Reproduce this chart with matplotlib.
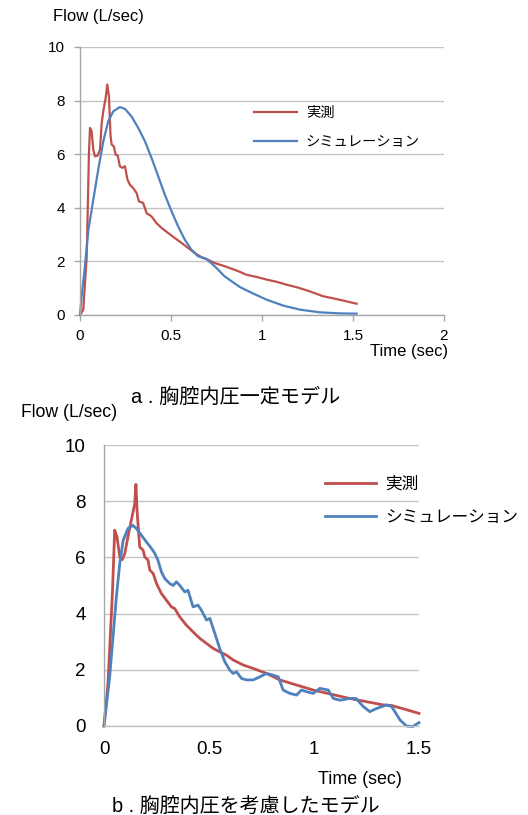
import numpy as np
import matplotlib
matplotlib.use("Agg")
import matplotlib.pyplot as plt

FONT = ["Liberation Sans", "Noto Sans CJK JP", "DejaVu Sans"]
plt.rcParams["font.family"] = FONT

RED = "#C0504D"
BLUE = "#4F81BD"
GRID = "#C4C4C4"
AXIS = "#A6A6A6"

# --- panel a: measured flow vs constant-pressure simulation ---
t_meas_a = [0.0, 0.018, 0.037, 0.049, 0.055, 0.064, 0.073, 0.082, 0.097, 0.11, 0.119, 0.128,
            0.141, 0.15, 0.159, 0.168, 0.174, 0.186, 0.196, 0.207, 0.219, 0.232, 0.247, 0.261,
            0.274, 0.292, 0.311, 0.324, 0.347, 0.366, 0.393, 0.42, 0.448, 0.484, 0.521, 0.558,
            0.594, 0.631, 0.667, 0.704, 0.74, 0.795, 0.86, 0.916, 0.97, 1.026, 1.08, 1.135,
            1.2, 1.263, 1.336, 1.42, 1.52]
f_meas_a = [0.0, 0.2, 2.19, 6.0, 6.98, 6.85, 6.17, 5.92, 5.95, 6.17, 7.16, 7.6,
            8.1, 8.6, 8.16, 6.67, 6.36, 6.29, 5.98, 5.95, 5.55, 5.49, 5.55, 5.05,
            4.86, 4.74, 4.55, 4.24, 4.18, 3.8, 3.68, 3.43, 3.25, 3.06, 2.87, 2.69,
            2.5, 2.31, 2.16, 2.06, 1.94, 1.82, 1.66, 1.5, 1.42, 1.32, 1.24, 1.13,
            1.02, 0.88, 0.70, 0.58, 0.42]

t_sim_a = [0.0, 0.009, 0.027, 0.046, 0.073, 0.1, 0.128, 0.155, 0.183, 0.219, 0.247, 0.283,
           0.32, 0.357, 0.393, 0.43, 0.466, 0.503, 0.539, 0.576, 0.612, 0.649, 0.695, 0.74,
           0.795, 0.879, 0.952, 1.026, 1.117, 1.208, 1.318, 1.428, 1.52]
f_sim_a = [0.0, 0.7, 1.82, 3.18, 4.3, 5.42, 6.48, 7.23, 7.6, 7.76, 7.69, 7.41,
           6.98, 6.48, 5.86, 5.17, 4.49, 3.87, 3.31, 2.81, 2.44, 2.19, 2.09, 1.82,
           1.44, 1.04, 0.8, 0.57, 0.35, 0.2, 0.1, 0.06, 0.05]

# --- panel b: measured flow vs simulation with intrathoracic pressure ---
t_meas_b = [0.0, 0.019, 0.04, 0.051, 0.062, 0.075, 0.087, 0.099, 0.114, 0.13, 0.146, 0.152,
            0.158, 0.17, 0.186, 0.194, 0.21, 0.218, 0.234, 0.25, 0.273, 0.297, 0.321, 0.337,
            0.36, 0.392, 0.424, 0.456, 0.488, 0.52, 0.551, 0.583, 0.615, 0.663, 0.71, 0.774,
            0.837, 0.996, 1.17, 1.33, 1.37, 1.5]
f_meas_b = [0.0, 1.52, 4.72, 6.97, 6.73, 6.02, 5.92, 6.14, 6.73, 7.32, 7.9, 8.6,
            7.6, 6.37, 6.26, 6.02, 5.9, 5.55, 5.43, 5.07, 4.72, 4.48, 4.24, 4.18,
            3.89, 3.59, 3.35, 3.12, 2.94, 2.76, 2.64, 2.52, 2.35, 2.17, 2.05, 1.87,
            1.64, 1.28, 0.98, 0.75, 0.73, 0.45]

t_sim_b = [0.0, 0.027, 0.043, 0.059, 0.075, 0.091, 0.114, 0.138, 0.154, 0.178, 0.202, 0.226,
           0.242, 0.257, 0.273, 0.289, 0.313, 0.329, 0.345, 0.36, 0.385, 0.4, 0.424, 0.448,
           0.464, 0.488, 0.504, 0.528, 0.551, 0.575, 0.599, 0.615, 0.631, 0.655, 0.679, 0.71,
           0.742, 0.774, 0.806, 0.83, 0.853, 0.885, 0.917, 0.94, 0.965, 0.996, 1.028, 1.068,
           1.092, 1.124, 1.17, 1.2, 1.235, 1.266, 1.3, 1.346, 1.37, 1.41, 1.44, 1.47, 1.5]
f_sim_b = [0.0, 1.75, 3.18, 4.6, 5.78, 6.6, 7.03, 7.14, 7.03, 6.79, 6.55, 6.32,
           6.14, 5.9, 5.49, 5.25, 5.07, 5.0, 5.13, 5.01, 4.77, 4.83, 4.24, 4.3,
           4.12, 3.77, 3.83, 3.29, 2.76, 2.29, 1.99, 1.87, 1.93, 1.69, 1.64, 1.64,
           1.75, 1.87, 1.81, 1.75, 1.28, 1.16, 1.1, 1.28, 1.22, 1.16, 1.34, 1.28,
           0.98, 0.92, 0.98, 0.98, 0.69, 0.51, 0.63, 0.75, 0.69, 0.21, 0.0, -0.02, 0.12]

labels = ["実測", "シミュレーション"]
yticks = [0, 2, 4, 6, 8, 10]

W, H = 528, 815
fig = plt.figure(figsize=(W / 100, H / 100), dpi=100)


def px_axes(left, top, right, bottom):
    return fig.add_axes([left / W, 1 - bottom / H, (right - left) / W, (bottom - top) / H])


def style(ax, xlim, xticks, fs, ticklen, xpad, ypad):
    ax.set_xlim(*xlim)
    ax.set_ylim(0, 10)
    ax.set_xticks(xticks)
    ax.set_xticklabels([f"{v:g}" for v in xticks])
    ax.set_yticks(yticks)
    ax.grid(axis="y", color=GRID, lw=1.0)
    ax.set_axisbelow(True)
    for s in ("top", "right"):
        ax.spines[s].set_visible(False)
    for s in ("left", "bottom"):
        ax.spines[s].set_color(AXIS)
        ax.spines[s].set_linewidth(1.0)
    ax.tick_params(axis="both", colors=AXIS, labelcolor="black", labelsize=fs,
                   length=ticklen, width=1.0)
    ax.tick_params(axis="x", pad=xpad)
    ax.tick_params(axis="y", pad=ypad)


# panel a
ax1 = px_axes(80, 47, 444, 315)
ax1.plot(t_meas_a, f_meas_a, color=RED, lw=1.6, label=labels[0], clip_on=False)
ax1.plot(t_sim_a, f_sim_a, color=BLUE, lw=1.6, label=labels[1], clip_on=False)
style(ax1, (0, 2), [0, 0.5, 1, 1.5, 2], 11, 4, 6, 7)
ax1.legend(loc="upper left", bbox_to_anchor=(248 / W, 1 - 100 / H), bbox_transform=fig.transFigure,
           frameon=False, fontsize=10.3, handlelength=3.0, handletextpad=0.65, labelspacing=1.1,
           borderaxespad=0)
fig.text(53 / W, 1 - 17 / H, "Flow (L/sec)", fontsize=12, va="center", ha="left")
fig.text(448 / W, 1 - 352 / H, "Time (sec)", fontsize=12, va="center", ha="right")
fig.text(236 / W, 1 - 397 / H, "a . 胸腔内圧一定モデル", fontsize=14.5, va="center", ha="center")

# panel b
ax2 = px_axes(104, 445, 419, 726)
ax2.plot(t_meas_b, f_meas_b, color=RED, lw=2.0, label=labels[0], clip_on=False)
ax2.plot(t_sim_b, f_sim_b, color=BLUE, lw=2.0, label=labels[1], clip_on=False)
style(ax2, (0, 1.5), [0, 0.5, 1, 1.5], 13.5, 0, 11, 13)
ax2.spines["bottom"].set_color(GRID)
ax2.legend(loc="upper left", bbox_to_anchor=(318 / W, 1 - 470 / H), bbox_transform=fig.transFigure,
           frameon=False, fontsize=12, handlelength=3.1, handletextpad=0.55, labelspacing=1.05,
           borderaxespad=0)
fig.text(21 / W, 1 - 413 / H, "Flow (L/sec)", fontsize=12.7, va="center", ha="left")
fig.text(402 / W, 1 - 779 / H, "Time (sec)", fontsize=12.9, va="center", ha="right")
fig.text(246 / W, 1 - 806 / H, "b . 胸腔内圧を考慮したモデル", fontsize=14.4, va="center", ha="center")

fig.savefig("out.png", dpi=100)
